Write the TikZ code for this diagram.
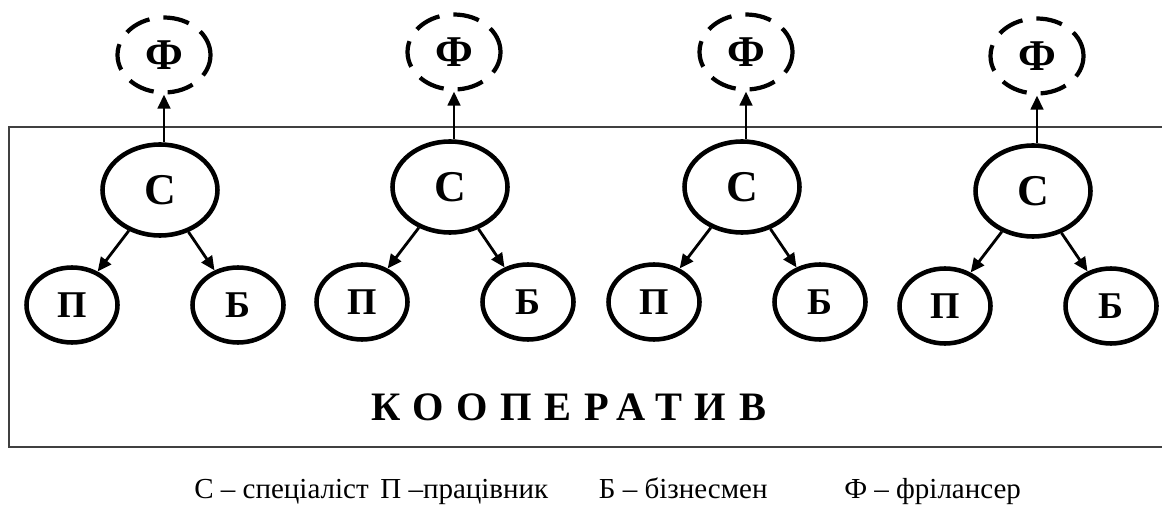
\documentclass[tikz,border=0pt]{standalone}
\usepackage{fontspec}
\setmainfont{Liberation Serif}
\newfontfamily\spacedfont[LetterSpace=31.5]{Liberation Serif}
\usetikzlibrary{positioning}
\usetikzlibrary{shapes.geometric}
\usetikzlibrary{arrows.meta}
\tikzset{
  arr/.style={-{Triangle[length=2.8mm,width=2.5mm]},line width=1.6pt},
  specnode/.style={draw,ellipse,line width=2.6pt,inner sep=0pt,minimum width=2.3cm,minimum height=1.82cm,font=\bfseries\fontsize{25}{26}\selectfont},
  rolenode/.style={draw,ellipse,line width=2.6pt,inner sep=0pt,minimum width=1.82cm,minimum height=1.5cm,font=\bfseries\fontsize{21.5}{22}\selectfont},
  freenode/.style={draw,ellipse,line width=2.4pt,dash pattern=on 15pt off 8pt,inner sep=0pt,minimum width=1.86cm,minimum height=1.5cm,font=\bfseries\fontsize{25}{26}\selectfont},
  legend/.style={inner sep=0pt,font=\fontsize{16.5}{18}\selectfont}
}

\begin{document}
\begin{tikzpicture}[x=0.02cm,y=-0.02cm]
    %\draw [help lines, step=50] (0,0) grid (1162,506);
    \useasboundingbox (0,0) rectangle (1162,506);
    \draw [line width=1pt, black!75] (9,127) rectangle (1180,447);

    \foreach \x/\y [count=\i] in {160/190,450/187,742/187,1033/191} {
        \node [specnode] (c\i) at (\x,\y) {С};
        \node [rolenode] (p\i) at ([shift={(-88,115)}]c\i) {П};
        \node [rolenode] (b\i) at ([shift={(78,115)}]c\i) {Б};
        \node [freenode] (f\i) at ([shift={(4,-135)}]c\i) {Ф};
        \draw [arr] (c\i) -- (p\i);
        \draw [arr] (c\i) -- (b\i);
        \draw [arr] (c\i.north -| f\i) -- (f\i.south);
    }

    \node [anchor=base west, inner sep=0pt, font=\spacedfont\bfseries\fontsize{23}{24}\selectfont] (coop_label) at (371,420) {КООПЕРАТИВ};

    \node [legend, anchor=base west] (leg_c) at (194,498) {С – спеціаліст};
    \node [legend, base right=0.22cm of leg_c] (leg_p) {П –працівник};
    \node [legend, base right=1.0cm of leg_p] (leg_b) {Б – бізнесмен};
    \node [legend, base right=1.52cm of leg_b] (leg_f) {Ф – фрілансер};
\end{tikzpicture}
\end{document}
